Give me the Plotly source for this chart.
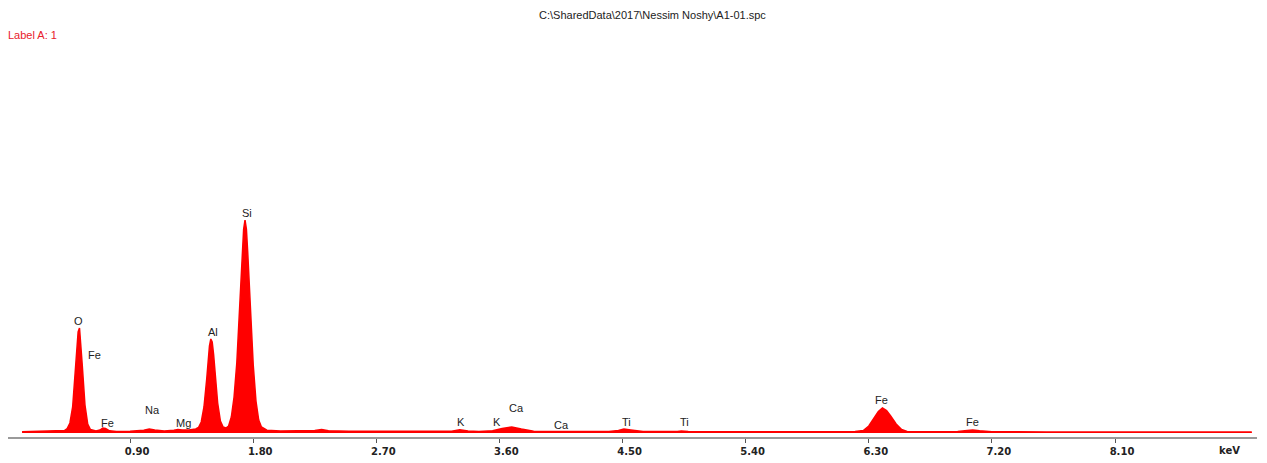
import plotly.graph_objects as go

# Spectrum (keV, counts)
energy = [0.11, 0.20, 0.30, 0.38, 0.42,
          0.44, 0.46, 0.48, 0.50, 0.51, 0.52, 0.53, 0.54, 0.55, 0.57, 0.59, 0.61,
          0.65, 0.68, 0.70, 0.72, 0.75, 0.80, 0.90,
          1.00, 1.04, 1.08, 1.15, 1.22, 1.25, 1.28, 1.33, 1.38,
          1.40, 1.42, 1.44, 1.46, 1.47, 1.48, 1.49, 1.50, 1.51, 1.52, 1.54, 1.56, 1.58, 1.60,
          1.62, 1.64, 1.66, 1.68, 1.70, 1.72, 1.73, 1.74, 1.75, 1.76, 1.78, 1.80, 1.82, 1.84, 1.86, 1.90,
          2.00, 2.15, 2.25, 2.30, 2.35, 2.50, 2.80, 3.10,
          3.25, 3.31, 3.37, 3.45, 3.55, 3.62, 3.69, 3.76, 3.85,
          4.00, 4.20, 4.40, 4.47, 4.51, 4.56, 4.65, 4.90, 4.93, 4.98,
          5.20, 5.60, 6.00,
          6.20, 6.26, 6.30, 6.34, 6.37, 6.40, 6.43, 6.46, 6.50, 6.54, 6.58,
          6.70, 6.95, 7.02, 7.06, 7.11, 7.20, 7.60, 8.00, 8.50, 9.10]
counts = [12, 14, 15, 18, 25,
          45, 100, 260, 620, 850, 1010, 1050, 900, 680, 280, 90, 35,
          20, 30, 50, 45, 22, 16, 18,
          28, 40, 30, 20, 28, 35, 30, 30, 40,
          55, 110, 260, 540, 720, 870, 940, 910, 790, 620, 300, 120, 60, 50,
          70, 160, 360, 700, 1200, 1780, 2040, 2130, 2040, 1800, 1220, 680, 320, 130, 60, 28,
          20, 20, 25, 35, 22, 18, 16, 16,
          18, 32, 20, 16, 22, 45, 60, 40, 18,
          15, 14, 14, 25, 40, 30, 14, 14, 20, 14,
          12, 12, 12,
          14, 25, 70, 150, 215, 250, 225, 170, 90, 35, 16,
          12, 14, 26, 30, 22, 12, 11, 10, 10, 10]

# Peak labels
label_text = ["O", "Fe", "Fe", "Na", "Mg", "Al", "Si", "K", "K", "Ca", "Ca", "Ti", "Ti", "Fe", "Fe"]
label_energy = [0.526, 0.643, 0.738, 1.067, 1.287, 1.506, 1.754, 3.319, 3.582, 3.728, 4.05, 4.532, 4.956, 6.396, 7.061]
label_height = [1120, 780, 100, 230, 100, 1010, 2200, 110, 110, 250, 80, 110, 110, 330, 110]

# Axis ticks
tick_vals = [0.90, 1.80, 2.70, 3.60, 4.50, 5.40, 6.30, 7.20, 8.10]
tick_text = ["0.90", "1.80", "2.70", "3.60", "4.50", "5.40", "6.30", "7.20", "8.10"]

title_text = "C:\\SharedData\\2017\\Nessim Noshy\\A1-01.spc"
label_a = "Label A: 1"

fig = go.Figure()
fig.add_trace(go.Scatter(
    x=energy, y=counts, mode="lines", fill="tozeroy",
    line=dict(color="#ff0000", width=1.5), fillcolor="#ff0000",
    hoverinfo="x+y", showlegend=False,
))

for t, xe, yh in zip(label_text, label_energy, label_height):
    fig.add_annotation(x=xe, y=yh, text=t, showarrow=False,
                       xanchor="center", yanchor="middle",
                       font=dict(family="Liberation Sans, Arial", size=11, color="#222"))

fig.add_annotation(x=8.94, y=-40, xref="x", yref="y", yshift=-13, text="<b>keV</b>",
                   showarrow=False, xanchor="center", yanchor="middle",
                   font=dict(family="DejaVu Sans", size=10, color="#222"))
fig.add_annotation(x=0.5, y=1, xref="paper", yref="paper", xanchor="center", yanchor="top",
                   text=title_text, showarrow=False, yshift=32, xshift=20, borderpad=0,
                   font=dict(family="Liberation Sans, Arial", size=11, color="#222"))
fig.add_annotation(x=0, y=1, xref="paper", yref="paper", xanchor="left", yanchor="middle",
                   text=label_a, showarrow=False, yshift=5, xshift=-2,
                   font=dict(family="Liberation Sans, Arial", size=11, color="#e8202a"))

fig.update_layout(
    width=1259, height=455,
    margin=dict(l=0, r=10, t=32, b=26),
    paper_bgcolor="white", plot_bgcolor="white",
    xaxis=dict(range=[0.0073, 9.138], tickvals=tick_vals, ticktext=tick_text,
               showgrid=False, zeroline=False, showline=True, linecolor="#9a9a9a", linewidth=2,
               ticks="outside", ticklen=4, tickcolor="#555", tickwidth=1,
               ticklabelshift=7,
               tickfont=dict(family="DejaVu Sans", size=10, color="#222", weight="bold")),
    yaxis=dict(range=[-40, 3930], visible=False, showgrid=False, zeroline=False),
)

fig.write_html("out.html")
